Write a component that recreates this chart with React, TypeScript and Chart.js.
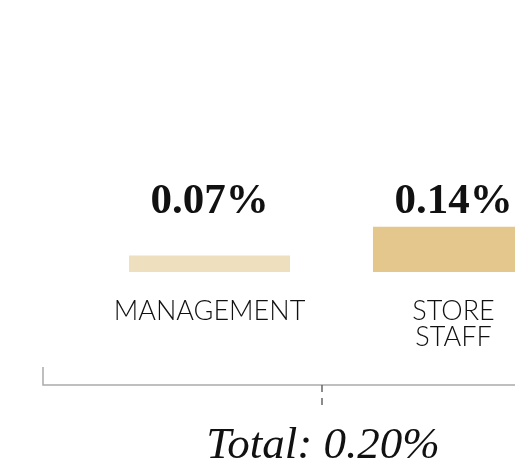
import React, { useEffect, useRef } from "react";
import { Chart, registerables } from "chart.js";

Chart.register(...registerables);

const categories: (string | string[])[] = ["MANAGEMENT", ["STORE", "STAFF"]];
const values: number[] = [0.07, 0.14];
const valueLabels: string[] = ["0.07%", "0.14%"];
const barColors: string[] = ["#EEDFBF", "#E4C78D"];
const totalLabel = "Total: 0.20%";

const decorPlugin = {
  id: "decor",
  afterDatasetsDraw(chart: any) {
    const ctx = chart.ctx;
    const meta = chart.getDatasetMeta(0);
    ctx.save();
    // value labels
    ctx.fillStyle = "#111";
    ctx.font = "bold 43px 'Liberation Serif'";
    ctx.textAlign = "center";
    ctx.textBaseline = "alphabetic";
    meta.data.forEach((el: any, i: number) => {
      ctx.fillText(valueLabels[i], el.x, 213);
    });
    // bracket
    ctx.strokeStyle = "#AAAAAA";
    ctx.lineWidth = 1.5;
    ctx.beginPath();
    ctx.moveTo(43, 367);
    ctx.lineTo(43, 385);
    ctx.lineTo(601, 385);
    ctx.lineTo(601, 367);
    ctx.stroke();
    ctx.strokeStyle = "#666666";
    ctx.lineWidth = 1.5;
    ctx.setLineDash([7, 6]);
    ctx.beginPath();
    ctx.moveTo(322, 385);
    ctx.lineTo(322, 405);
    ctx.stroke();
    ctx.setLineDash([]);
    // total
    ctx.fillStyle = "#111";
    ctx.font = "italic 45px 'Liberation Serif'";
    ctx.textAlign = "center";
    ctx.fillText(totalLabel, 323, 458);
    ctx.restore();
  },
};

export default function App() {
  const ref = useRef<HTMLCanvasElement | null>(null);
  useEffect(() => {
    if (!ref.current) return;
    const chart = new Chart(ref.current, {
      type: "bar",
      data: {
        labels: categories,
        datasets: [
          {
            data: values,
            backgroundColor: barColors,
            borderWidth: 0,
            barPercentage: 0.66,
            categoryPercentage: 1,
          },
        ],
      },
      options: {
        responsive: false,
        animation: false,
        devicePixelRatio: 1,
        layout: { padding: { left: 87.5, right: 224.5, top: 169, bottom: 90 } },
        plugins: { legend: { display: false }, tooltip: { enabled: false }, title: { display: false } },
        scales: {
          y: { display: false, min: 0.03, max: 0.28 },
          x: {
            grid: { display: false, drawTicks: false },
            border: { display: false },
            ticks: {
              padding: 26,
              color: "#111",
              maxRotation: 0,
              autoSkip: false,
              font: { family: "Lato", size: 27, weight: "300", lineHeight: "26px" },
            },
          },
        },
      },
      plugins: [decorPlugin],
    });
    return () => chart.destroy();
  }, []);
  return (
    <div style={{ position: "absolute", left: 0, top: 0, width: 515, height: 465, overflow: "hidden", background: "#fff" }}>
      <canvas ref={ref} width={800} height={465} style={{ width: 800, height: 465, display: "block" }} />
    </div>
  );
}
